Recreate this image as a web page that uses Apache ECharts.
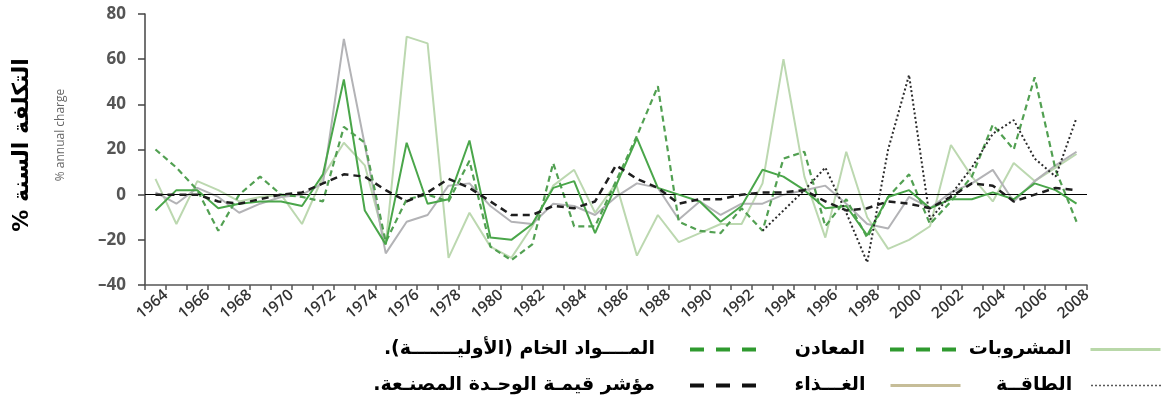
<!DOCTYPE html>
<html>
<head>
<meta charset="utf-8">
<script src="https://cdn.jsdelivr.net/npm/echarts@6/dist/echarts.min.js"></script>
<style>
	html, body { margin: 0; padding: 0; background: #fff; }
	#chart { width: 1165px; height: 407px; }
</style>
</head>
<body>
<div id="chart"></div>
<script>
// 年份 (每个点画在对应刻度的左边半格)
const years = []
for (let y = 1964; y <= 2008; y++) years.push(String(y))

const yTicks = [-40, -20, 0, 20, 40, 60, 80]

// 各类别年度变化 %
const beverages = [7, -13, 6, 2, -3, -1, 0, -13, 8, 23, 13, -22, 70, 67, -28, -8, -23, -28, -14, 4, 11, -8, 5, -27, -9, -21, -17, -13, -13, 5, 60, 8, -19, 19, -10, -24, -20, -14, 22, 8, -3, 14, 6, 12, 18]
const metals = [20, 12, 2, -16, 0, 8, 0, -1, -3, 30, 23, -21, -2, 0, -3, 15, -23, -29, -22, 14, -14, -14, 6, 26, 48, -12, -16, -17, -6, -16, 16, 19, -14, -2, -19, -1, 9, -13, -3, 8, 31, 20, 52, 11, -12]
const rawMaterials = [-7, 2, 2, -6, -4, -3, -3, -5, 9, 51, -7, -22, 23, -4, -2, 24, -19, -20, -13, 3, 6, -17, 4, 25, 3, 0, -3, -12, -5, 11, 8, 2, -6, -5, -18, -1, 2, -6, -2, -2, 1, -2, 5, 2, -4]
const food = [1, -4, 3, -1, -8, -4, -1, 0, 5, 69, 22, -26, -12, -9, 4, 5, -5, -12, -13, -4, -5, -9, -1, 5, 3, -11, -3, -9, -4, -4, 0, 2, 4, -4, -13, -15, -1, -6, 1, 5, 11, -3, 6, 13, 19]
const manufIndex = [0, 0, 0, -3, -4, -2, 0, 1, 5, 9, 8, 2, -3, 1, 7, 3, -3, -9, -9, -5, -6, -3, 13, 7, 3, -4, -2, -2, 0, 1, 1, 2, -3, -7, -6, -3, -4, -6, -1, 5, 4, -3, 0, 3, 2]
const energy = [null, null, null, null, null, null, null, null, null, null, null, null, null, null, null, null, null, null, null, null, null, null, null, null, null, null, null, null, null, -16, -7, 2, 12, -8, -30, 20, 53, -11, 0, 12, 27, 33, 16, 8, 34]

// 图例名称
const NAME_BEV = 'المشروبات'
const NAME_MET = 'المعادن'
const NAME_RAW = 'المــــواد الخام (الأوليـــــــة).\u200F'
const NAME_ENE = 'الطاقــة'
const NAME_FOOD = 'الغـــذاء'
const NAME_IDX = 'مؤشر قيمـة الوحـدة المصنـعة.\u200F'

const AR_FONT = '"DejaVu Sans", sans-serif'

const chart = echarts.init(document.getElementById('chart'), null, { renderer: 'canvas' })

function lineSeries(name, data, color, width, type, z) {
	return {
		name,
		type: 'line',
		data,
		symbol: 'none',
		xAxisIndex: 0,
		z: z || 2,
		lineStyle: { color, width, type },
		itemStyle: { color },
	}
}

// 单个图例 (右到左排列, 图标在文字右边)
function legendItem(name, right, top, lineStyle, gap) {
	return {
		data: [{ name, lineStyle, itemStyle: { opacity: 0 } }],
		right,
		top,
		padding: 0,
		align: 'right',
		itemWidth: 70,
		itemHeight: 14,
		selectedMode: false,
		textStyle: {
			fontFamily: AR_FONT,
			fontSize: 19,
			fontWeight: 'bold',
			color: '#000',
			padding: [0, gap, 0, 0],
		},
	}
}

const option = {
	backgroundColor: '#fff',
	animation: false,
	grid: { left: 145, right: 78, top: 14, bottom: 122 },
	xAxis: [
		{
			type: 'category',
			data: years,
			boundaryGap: true,
			show: false,
		},
		{
			type: 'value',
			min: 1963,
			max: 2008,
			interval: 1,
			position: 'bottom',
			axisLine: { show: true, lineStyle: { color: '#555', width: 1.5 } },
			axisTick: { show: true, length: 5, lineStyle: { color: '#555', width: 1.5 } },
			splitLine: { show: false },
			axisLabel: {
				rotate: 40,
				margin: 8,
				fontFamily: '"Open Sans", sans-serif',
				fontWeight: 600,
				fontSize: 15.5,
				color: '#333',
				formatter: (v) => (v % 2 === 0 && v > 1963 ? String(v) : ''),
			},
		},
	],
	yAxis: {
		type: 'value',
		min: yTicks[0],
		max: yTicks[yTicks.length - 1],
		interval: 20,
		axisLine: { show: true, lineStyle: { color: '#444', width: 1.5 } },
		axisTick: { show: true, length: 7, lineStyle: { color: '#444', width: 1.5 } },
		splitLine: { show: false },
		axisLabel: {
			margin: 19,
			fontFamily: '"Open Sans", sans-serif',
			fontWeight: 'bold',
			fontSize: 17,
			color: '#555',
			formatter: (v) => (v < 0 ? '\u2013' + Math.abs(v) : String(v)),
		},
	},
	legend: [
		legendItem(NAME_BEV, 3, 340, { color: '#b9d8a9', width: 3, type: 'solid' }, 14),
		legendItem(NAME_MET, 203, 340, { color: '#2f9a2f', width: 4, type: [14, 12] }, 20),
		legendItem(NAME_RAW, 403, 340, { color: '#2f9a2f', width: 4, type: [14, 12] }, 30),
		legendItem(NAME_ENE, 3, 376, { color: '#222', width: 1.5, type: [1.5, 2.5] }, 14),
		legendItem(NAME_FOOD, 203, 376, { color: '#c6bd98', width: 3, type: 'solid' }, 20),
		legendItem(NAME_IDX, 403, 376, { color: '#111', width: 4, type: [14, 12] }, 30),
	],
	graphic: [
		{
			type: 'text',
			x: 22,
			y: 145,
			rotation: Math.PI / 2,
			style: {
				text: '% التكلفة السنة',
				font: 'bold 22px "DejaVu Sans", sans-serif',
				fill: '#000',
				align: 'center',
				verticalAlign: 'middle',
			},
		},
		{
			type: 'text',
			x: 61,
			y: 135,
			rotation: Math.PI / 2,
			style: {
				text: '% annual charge',
				font: '12px "Open Sans", sans-serif',
				fill: '#666',
				align: 'center',
				verticalAlign: 'middle',
			},
		},
	],
	series: [
		Object.assign(lineSeries(NAME_BEV, beverages, '#bcd8b0', 2, 'solid', 2), {
			markLine: {
				silent: true,
				symbol: 'none',
				label: { show: false },
				lineStyle: { color: '#000', width: 1, type: 'solid' },
				data: [{ yAxis: 0 }],
			},
		}),
		lineSeries(NAME_FOOD, food, '#b3b3b6', 2, 'solid', 3),
		lineSeries(NAME_MET, metals, '#52a052', 2.2, [6, 4], 4),
		lineSeries(NAME_RAW, rawMaterials, '#4aa64a', 2, 'solid', 5),
		lineSeries(NAME_IDX, manufIndex, '#1e1e1e', 2.5, [7, 5], 6),
		lineSeries(NAME_ENE, energy, '#2a2a2a', 2, [2, 2.5], 7),
	],
}

chart.setOption(option)
</script>
</body>
</html>
